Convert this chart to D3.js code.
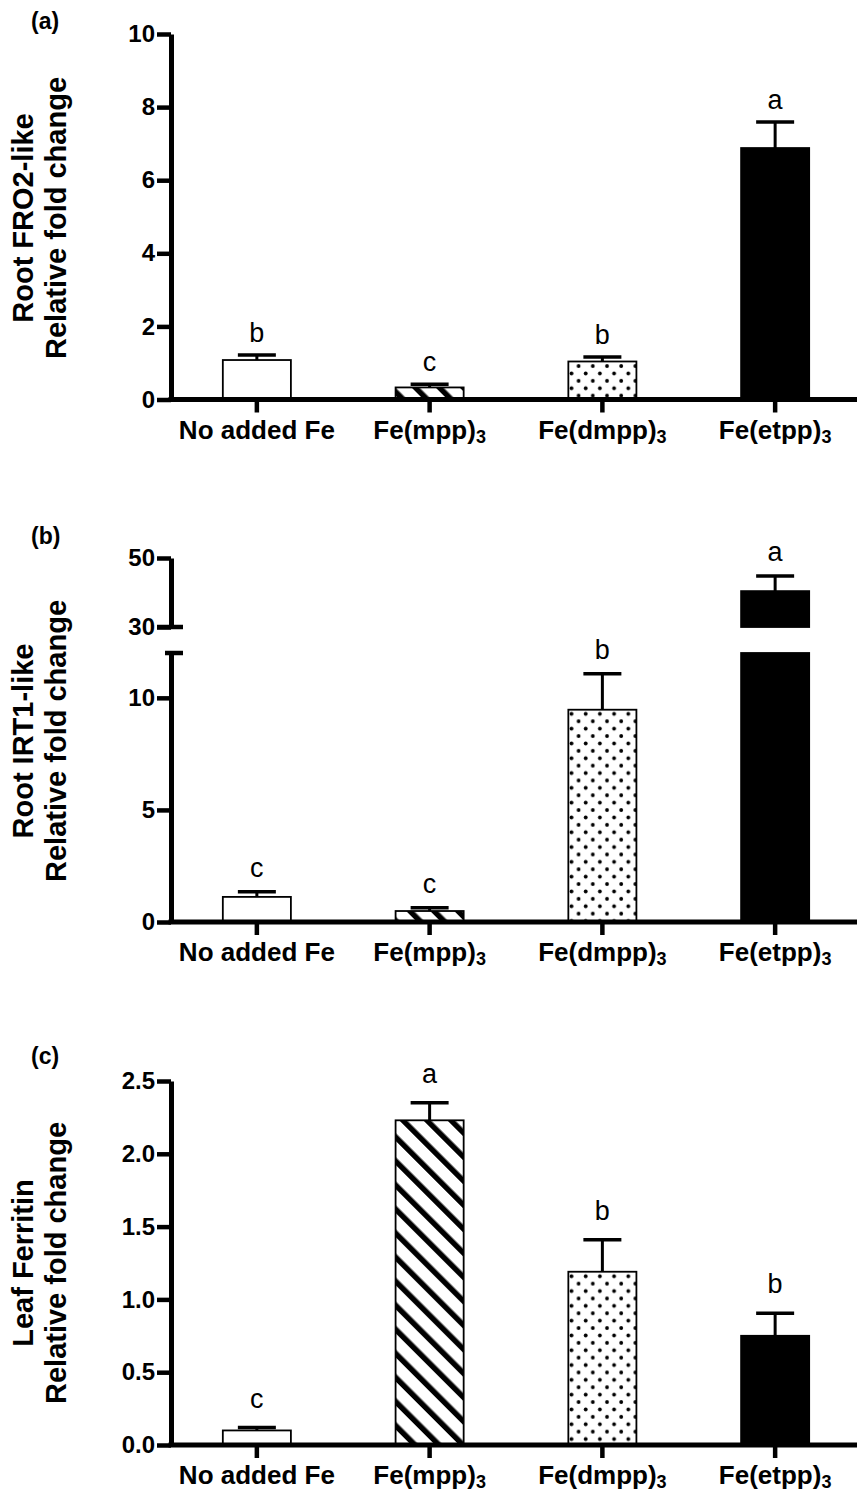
<!DOCTYPE html>
<html>
<head>
<meta charset="utf-8">
<script src="https://cdn.jsdelivr.net/npm/d3@7"></script>
<style>
  body { margin: 0; background: #fff; }
  text { font-family: "Liberation Sans", Arial, Helvetica, sans-serif; }
</style>
</head>
<body>
<div id="chart"></div>
<script>
// Treatments (the "3" is drawn as a subscript)
const categories = ["No added Fe", "Fe(mpp)", "Fe(dmpp)", "Fe(etpp)"];
const subscripts = ["", "3", "3", "3"];

// (a) Root FRO2-like
const fro2Mean = [1.08, 0.33, 1.04, 6.88];
const fro2Err = [0.14, 0.09, 0.12, 0.71];
const fro2Letters = ["b", "c", "b", "a"];
const fro2Ticks = [0, 2, 4, 6, 8, 10];

// (b) Root IRT1-like, broken y axis
const irt1Mean = [1.12, 0.49, 9.47, 40.4];
const irt1Err = [0.23, 0.15, 1.6, 4.4];
const irt1Letters = ["c", "c", "b", "a"];
const irt1LowTicks = [0, 5, 10];
const irt1HighTicks = [30, 50];

// (c) Leaf Ferritin
const ferMean = [0.10, 2.23, 1.19, 0.75];
const ferErr = [0.02, 0.12, 0.22, 0.155];
const ferLetters = ["c", "a", "b", "b"];
const ferTicks = [0, 0.5, 1.0, 1.5, 2.0, 2.5];

const fills = ["#fff", "url(#hatch)", "url(#dots)", "#000"];

const width = 857;
const height = 1493;
const axisX = 171;

const svg = d3.select("#chart").append("svg")
    .attr("width", width)
    .attr("height", height);

// patterns for the bars
const defs = svg.append("defs");
const hatch = defs.append("pattern")
    .attr("id", "hatch")
    .attr("patternUnits", "userSpaceOnUse")
    .attr("width", 17)
    .attr("height", 17)
    .attr("patternTransform", "rotate(-45)");
hatch.append("rect").attr("width", 17).attr("height", 17).attr("fill", "#fff");
hatch.append("rect").attr("x", 0).attr("width", 5.5).attr("height", 17).attr("fill", "#000");

const dots = defs.append("pattern")
    .attr("id", "dots")
    .attr("patternUnits", "userSpaceOnUse")
    .attr("width", 14.2)
    .attr("height", 14.8);
dots.append("rect").attr("width", 14.2).attr("height", 14.8).attr("fill", "#fff");
dots.append("circle").attr("cx", 3.5).attr("cy", 3.5).attr("r", 1.9).attr("fill", "#000");
dots.append("circle").attr("cx", 10.6).attr("cy", 10.9).attr("r", 1.9).attr("fill", "#000");

const x = d3.scaleBand()
    .domain(categories)
    .range([axisX, 861])
    .paddingInner(0.606)
    .paddingOuter(0.3);

const panels = [
    {
        tag: "(a)", tagY: 29, titleY: 218,
        title: ["Root FRO2-like", "Relative fold change"],
        mean: fro2Mean, err: fro2Err, letters: fro2Letters, gap: 13,
        fmt: d3.format("d"),
        segments: [{ domain: [0, 10], range: [399.5, 34], ticks: fro2Ticks }]
    },
    {
        tag: "(b)", tagY: 544, titleY: 741,
        title: ["Root IRT1-like", "Relative fold change"],
        mean: irt1Mean, err: irt1Err, letters: irt1Letters, gap: 15,
        fmt: d3.format("d"),
        segments: [
            { domain: [0, 12], range: [922, 653], ticks: irt1LowTicks, breakTop: true },
            { domain: [30, 50], range: [627, 558], ticks: irt1HighTicks, breakBottom: true }
        ]
    },
    {
        tag: "(c)", tagY: 1064, titleY: 1263,
        title: ["Leaf Ferritin", "Relative fold change"],
        mean: ferMean, err: ferErr, letters: ferLetters, gap: 20,
        fmt: d3.format(".1f"),
        segments: [{ domain: [0, 2.5], range: [1445, 1081], ticks: ferTicks }]
    }
];

panels.forEach(p => {
    const g = svg.append("g");
    const scales = p.segments.map(s => d3.scaleLinear().domain(s.domain).range(s.range));
    const y0 = scales[0](0);
    const rows = p.mean.map((v, i) => ({ v, e: p.err[i], i }));

    // panel tag
    g.append("text")
        .attr("x", 31)
        .attr("y", p.tagY)
        .attr("font-size", 23)
        .attr("font-weight", "bold")
        .text(p.tag);

    // two-line y title
    p.title.forEach((t, k) => {
        g.append("text")
            .attr("transform", `translate(${[33, 66][k]},${p.titleY}) rotate(-90)`)
            .attr("text-anchor", "middle")
            .attr("font-size", 29)
            .attr("font-weight", "bold")
            .text(t);
    });

    // bars, cut at each axis segment
    p.segments.forEach((s, si) => {
        const y = scales[si];
        g.append("g").selectAll("rect")
            .data(rows.filter(d => d.v > s.domain[0]))
            .join("rect")
            .attr("x", d => x(categories[d.i]))
            .attr("width", x.bandwidth())
            .attr("y", d => y(Math.min(d.v, s.domain[1])))
            .attr("height", d => y(s.domain[0]) - y(Math.min(d.v, s.domain[1])))
            .attr("fill", d => fills[d.i])
            .attr("stroke", "#000")
            .attr("stroke-width", 1.8);
    });

    // error bars (upper only) and significance letters
    const segFor = v => scales[p.segments.findIndex(s => v <= s.domain[1])];
    rows.forEach(d => {
        const y = segFor(d.v);
        const cx = x(categories[d.i]) + x.bandwidth() / 2;
        const yTop = y(d.v + d.e);
        g.append("line")
            .attr("x1", cx).attr("x2", cx)
            .attr("y1", y(d.v)).attr("y2", yTop)
            .attr("stroke", "#000").attr("stroke-width", 3);
        g.append("line")
            .attr("x1", cx - 19).attr("x2", cx + 19)
            .attr("y1", yTop).attr("y2", yTop)
            .attr("stroke", "#000").attr("stroke-width", 3.5);
        g.append("text")
            .attr("x", cx)
            .attr("y", yTop - p.gap)
            .attr("text-anchor", "middle")
            .attr("font-size", 27)
            .text(p.letters[d.i]);
    });

    // y axis segments
    p.segments.forEach((s, si) => {
        const ax = g.append("g")
            .attr("transform", `translate(${axisX},0)`)
            .call(d3.axisLeft(scales[si]).tickValues(s.ticks).tickSize(14).tickPadding(2)
                .tickSizeOuter(0).tickFormat(p.fmt));
        ax.attr("font-size", 24)
            .attr("font-family", "Liberation Sans, Arial, sans-serif")
            .attr("font-weight", "bold");
        ax.select(".domain").attr("stroke", "#000").attr("stroke-width", 5);
        ax.selectAll(".tick line").attr("stroke", "#000").attr("stroke-width", 4.5);
        ax.selectAll(".tick text").attr("fill", "#000");
        // break marks
        if (s.breakTop) {
            const yb = scales[si](s.domain[1]);
            ax.append("line").attr("x1", -6).attr("x2", 12).attr("y1", yb).attr("y2", yb)
                .attr("stroke", "#000").attr("stroke-width", 4.5);
        }
        if (s.breakBottom) {
            const yb = scales[si](s.domain[0]);
            ax.append("line").attr("x1", -14).attr("x2", 12).attr("y1", yb).attr("y2", yb)
                .attr("stroke", "#000").attr("stroke-width", 4.5);
        }
    });

    // x axis with subscripted labels
    const xa = g.append("g")
        .attr("transform", `translate(0,${y0})`)
        .call(d3.axisBottom(x).tickSize(13).tickSizeOuter(0));
    xa.select(".domain").remove();
    xa.append("line")
        .attr("x1", axisX - 2.5).attr("x2", width)
        .attr("stroke", "#000").attr("stroke-width", 5);
    xa.selectAll(".tick line").attr("stroke", "#000").attr("stroke-width", 4.5);
    xa.attr("font-size", 26)
        .attr("font-family", "Liberation Sans, Arial, sans-serif")
        .attr("font-weight", "bold");
    xa.selectAll(".tick text")
        .attr("fill", "#000")
        .attr("y", 39)
        .attr("dy", null)
        .each(function(d, i) {
            const t = d3.select(this).text("");
            t.append("tspan").text(d);
            if (subscripts[i]) {
                t.append("tspan")
                    .attr("font-size", 18)
                    .attr("dy", 4)
                    .text(subscripts[i]);
            }
        });
});
</script>
</body>
</html>
